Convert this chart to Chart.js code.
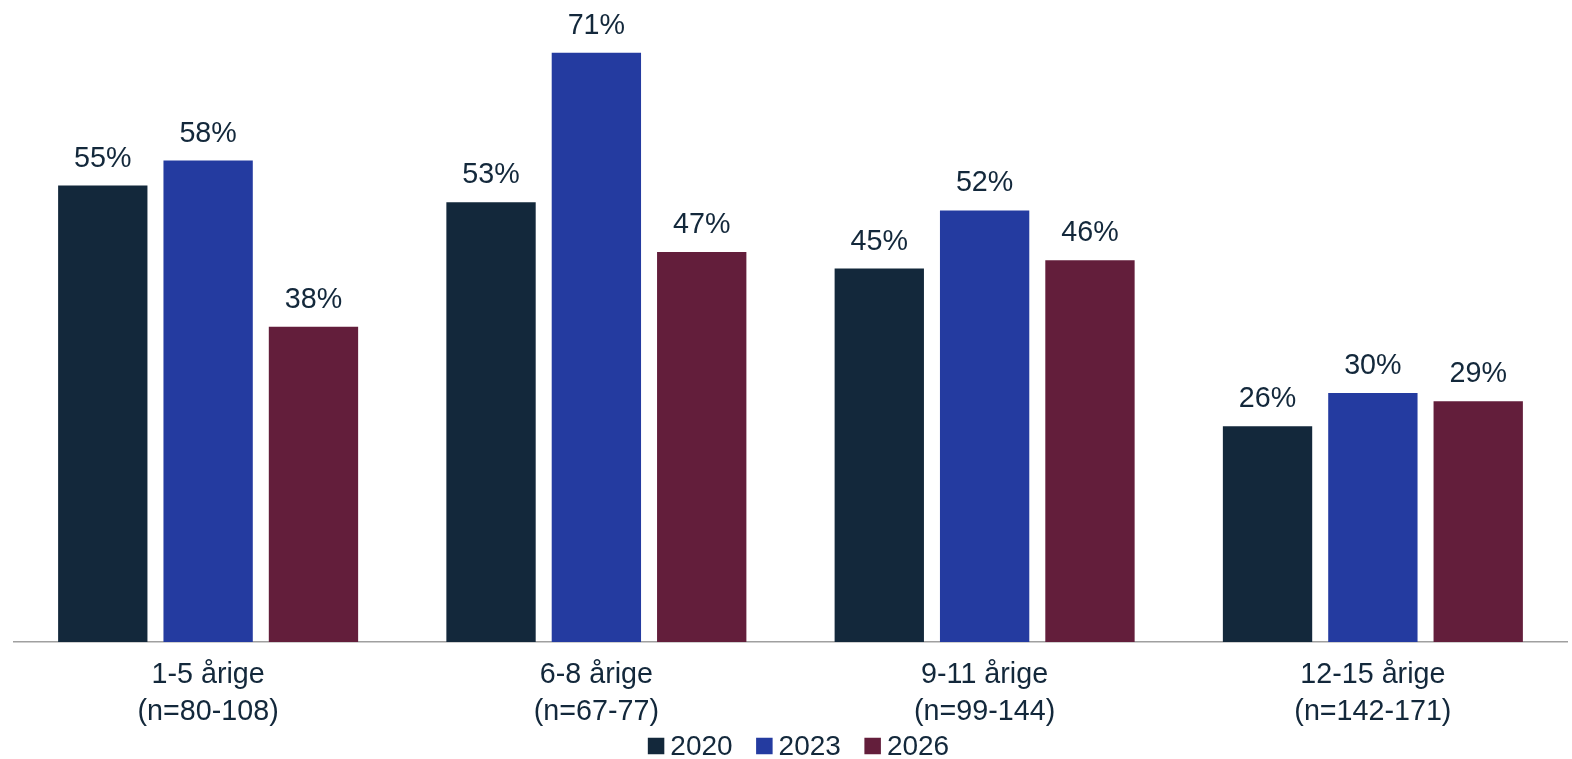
<!DOCTYPE html>
<html>
<head>
<meta charset="utf-8">
<script src="https://cdn.jsdelivr.net/npm/chart.js@4/dist/chart.umd.min.js"></script>
<style>
  html, body { margin: 0; padding: 0; background: #fff; }
  #wrap { width: 1572px; height: 759px; position: relative; }
</style>
</head>
<body>
<div id="wrap"><canvas id="chart1"></canvas></div>
<script>
const categories = [
  ['1-5 årige', '(n=80-108)'],
  ['6-8 årige', '(n=67-77)'],
  ['9-11 årige', '(n=99-144)'],
  ['12-15 årige', '(n=142-171)']
];
const seriesNames = ['2020', '2023', '2026'];
const values2020 = [55, 53, 45, 26];
const values2023 = [58, 71, 52, 30];
const values2026 = [38, 47, 46, 29];

const colors = {
  navy: '#13283b',
  blue: '#243ba0',
  maroon: '#631e3b'
};
const textColor = '#13283b';
const fontFamily = '"Liberation Sans", Arial, sans-serif';

const createDataset = (label, data, color) => ({
  label: label,
  data: data,
  backgroundColor: color,
  borderWidth: 0,
  categoryPercentage: 0.814,
  barPercentage: 0.848
});

// draws "55%" above each bar
const valueLabels = {
  id: 'valueLabels',
  afterDatasetsDraw(chart) {
    const c = chart.ctx;
    c.save();
    c.font = '28.7px ' + fontFamily;
    c.fillStyle = textColor;
    c.textAlign = 'center';
    c.textBaseline = 'alphabetic';
    chart.data.datasets.forEach((ds, i) => {
      chart.getDatasetMeta(i).data.forEach((bar, j) => {
        c.fillText(ds.data[j] + '%', bar.x, bar.y - 19);
      });
    });
    c.restore();
  }
};

// legend drawn by hand so the box/text gap matches
const bottomLegend = {
  id: 'bottomLegend',
  afterDraw(chart) {
    const c = chart.ctx;
    const box = 16.5, gap = 6, spacing = 23.5;
    c.save();
    c.font = '28px ' + fontFamily;
    c.textBaseline = 'middle';
    c.textAlign = 'left';
    const items = chart.data.datasets.map(ds => ({
      text: ds.label, color: ds.backgroundColor, w: c.measureText(ds.label).width
    }));
    var total = 0;
    items.forEach((it, i) => { total += box + gap + it.w + (i < items.length - 1 ? spacing : 0); });
    var x = (chart.chartArea.left + chart.chartArea.right) / 2 + 8 - total / 2;
    const y = 746;
    items.forEach(it => {
      c.fillStyle = it.color;
      c.fillRect(x, y - box / 2, box, box);
      c.fillStyle = textColor;
      c.fillText(it.text, x + box + gap, y + 1);
      x += box + gap + it.w + spacing;
    });
    c.restore();
  }
};

const ctx = document.getElementById('chart1');
new Chart(ctx, {
  type: 'bar',
  data: {
    labels: categories,
    datasets: [
      createDataset(seriesNames[0], values2020, colors.navy),
      createDataset(seriesNames[1], values2023, colors.blue),
      createDataset(seriesNames[2], values2026, colors.maroon)
    ]
  },
  options: {
    responsive: true,
    maintainAspectRatio: false,
    animation: false,
    layout: { padding: { top: 19.5, left: 14, right: 5, bottom: 14 } },
    scales: {
      x: {
        grid: { display: false, drawTicks: false },
        border: { display: true, color: '#a0a0a0', width: 1.5 },
        ticks: {
          color: textColor,
          font: { family: fontFamily, size: 28.7, lineHeight: 1.27 },
          padding: 15,
          maxRotation: 0
        }
      },
      y: {
        display: false,
        min: 0,
        max: 75
      }
    },
    plugins: {
      legend: { display: false },
      tooltip: { enabled: false }
    }
  },
  plugins: [valueLabels, bottomLegend]
});
</script>
</body>
</html>
